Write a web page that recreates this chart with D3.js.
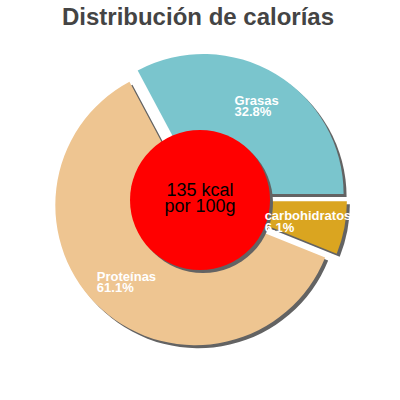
<!DOCTYPE html>
<html>
<head>
<meta charset="utf-8">
<script src="https://cdn.jsdelivr.net/npm/d3@7"></script>
<style>
  body { margin: 0; background: #fff; }
  text { font-family: "Liberation Sans", Arial, sans-serif; }
</style>
</head>
<body>
<div id="chart"></div>
<script>
// Data
const categories = ['Grasas', 'carbohidratos', 'Proteínas'];
const percentages = [32.8, 6.1, 61.1];
const sliceColors = ['#7ac5cd', '#daa520', '#eec591'];
const centerLines = ['135 kcal', 'por 100g'];
const chartTitle = 'Distribución de calorías';

const width = 400, height = 400;
const cx = 200, cy = 200;
const radius = 140;       // outer radius of the pie
const holeRadius = 70;    // red centre disc
const explode = 7;        // how far each slice is pulled out
const labelRadius = 103;
const shadowOffset = 3;

const svg = d3.select('#chart').append('svg')
    .attr('width', width)
    .attr('height', height);

svg.append('text')
    .attr('x', 198)
    .attr('y', 25)
    .attr('text-anchor', 'middle')
    .attr('font-size', 24)
    .attr('font-weight', 'bold')
    .attr('fill', '#444')
    .text(chartTitle);

const data = categories.map((name, i) => ({ name, value: percentages[i], color: sliceColors[i] }));

// first slice (Grasas) ends at 3 o'clock
const start = Math.PI / 2 - 2 * Math.PI * percentages[0] / d3.sum(percentages);
const pie = d3.pie()
    .sort(null)
    .value(d => d.value)
    .startAngle(start)
    .endAngle(start + 2 * Math.PI);

const arc = d3.arc().innerRadius(0).outerRadius(radius);
const labelArc = d3.arc().innerRadius(labelRadius).outerRadius(labelRadius);

const arcs = pie(data);

function shift(d) {
    const a = (d.startAngle + d.endAngle) / 2;
    return [Math.sin(a) * explode, -Math.cos(a) * explode];
}

const g = svg.append('g').attr('transform', `translate(${cx},${cy})`);

// shadows
g.selectAll('.slice-shadow')
    .data(arcs)
    .enter()
    .append('path')
    .attr('class', 'slice-shadow')
    .attr('d', arc)
    .attr('fill', '#636363')
    .attr('transform', d => {
        const [dx, dy] = shift(d);
        return `translate(${dx + shadowOffset},${dy + shadowOffset})`;
    });

// slices
g.selectAll('.slice')
    .data(arcs)
    .enter()
    .append('path')
    .attr('class', 'slice')
    .attr('d', arc)
    .attr('fill', d => d.data.color)
    .attr('transform', d => {
        const [dx, dy] = shift(d);
        return `translate(${dx},${dy})`;
    });

// centre disc with its shadow
g.append('circle')
    .attr('cx', shadowOffset)
    .attr('cy', shadowOffset)
    .attr('r', holeRadius)
    .attr('fill', '#636363');

g.append('circle')
    .attr('r', holeRadius)
    .attr('fill', '#ff0000');

// slice labels: two lines, left aligned, block centred on the label point
const labels = g.selectAll('.slice-label')
    .data(arcs)
    .enter()
    .append('g')
    .attr('class', 'slice-label');

labels.each(function(d) {
    const sel = d3.select(this);
    const [dx, dy] = shift(d);
    const [lx, ly] = labelArc.centroid(d);
    const lines = [d.data.name, d.data.value.toFixed(1) + '%'];
    const texts = lines.map((t, i) => sel.append('text')
        .attr('y', ly + dy - 1 + i * 11.6)
        .attr('font-size', 13)
        .attr('font-weight', 'bold')
        .attr('fill', '#fff')
        .text(t));
    const w = d3.max(texts, t => t.node().getComputedTextLength());
    texts.forEach(t => t.attr('x', lx + dx - w / 2));
});

// centre text
g.selectAll('.center-text')
    .data(centerLines)
    .enter()
    .append('text')
    .attr('class', 'center-text')
    .attr('text-anchor', 'middle')
    .attr('y', (d, i) => -4 + i * 15.7)
    .attr('font-size', 18)
    .attr('fill', '#000')
    .text(d => d);
</script>
</body>
</html>
